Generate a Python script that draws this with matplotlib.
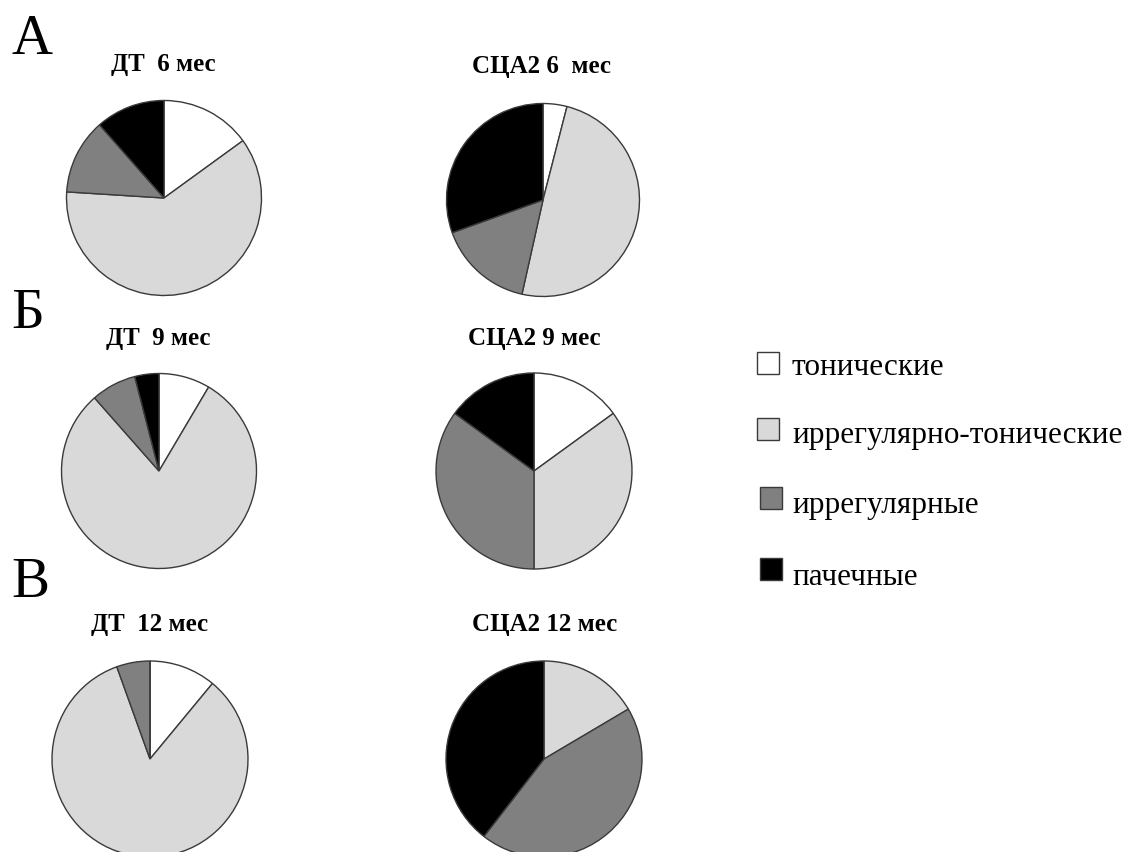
import matplotlib
matplotlib.use("Agg")
import matplotlib.pyplot as plt
from matplotlib.patches import Rectangle

# Категории активности и их цвета
categories = ["тонические", "иррегулярно-тонические", "иррегулярные", "пачечные"]
colors = ["#ffffff", "#d9d9d9", "#808080", "#000000"]

# Доли (%) по группам и срокам
titles = ["ДТ  6 мес", "СЦА2 6  мес", "ДТ  9 мес", "СЦА2 9 мес", "ДТ  12 мес", "СЦА2 12 мес"]
dt_6 = [15.0, 61.0, 12.5, 11.5]
sca2_6 = [4.0, 49.5, 16.0, 30.5]
dt_9 = [8.5, 80.0, 7.5, 4.0]
sca2_9 = [15.0, 35.0, 35.0, 15.0]
dt_12 = [11.0, 83.5, 5.5, 0.0]
sca2_12 = [0.0, 16.5, 44.0, 39.5]
panel_letters = ["А", "Б", "В"]

W, H = 1128, 852
fig = plt.figure(figsize=(W / 100, H / 100), dpi=100)
ax = fig.add_axes([0, 0, 1, 1])

serif = ["Liberation Serif", "DejaVu Serif"]

# layout (pixel coordinates, y measured from top)
pie_layout = [
    (164, 198, 97.5), (543, 200, 96.5),
    (159, 471, 97.5), (534, 471, 98.0),
    (150, 759, 98.0), (544, 759, 98.0),
]
title_pos = [(163.5, 71), (541.5, 73), (158, 345), (534.5, 345), (149.5, 631), (545, 631)]
letter_pos = [(11, 54), (11, 328), (11, 597)]

data = [dt_6, sca2_6, dt_9, sca2_9, dt_12, sca2_12]
for vals, (cx, cy, r) in zip(data, pie_layout):
    ax.pie(vals, colors=colors, startangle=90, counterclock=False,
           center=(cx, H - cy), radius=r,
           wedgeprops=dict(edgecolor="#3a3a3a", linewidth=1.0))

for t, (x, y) in zip(titles, title_pos):
    ax.text(x, H - y, t, ha="center", va="baseline", fontsize=18,
            fontweight="bold", family=serif)

for L, (x, y) in zip(panel_letters, letter_pos):
    ax.text(x, H - y, L, ha="left", va="baseline", fontsize=41, family=serif)

# legend
sq = 22
sq_x = [757, 757, 760, 760]
sq_yc = [362.5, 429, 497.5, 569]
txt_base = [375, 443, 513, 585]
for lab, c, x, yc, yb in zip(categories, colors, sq_x, sq_yc, txt_base):
    ax.add_patch(Rectangle((x, H - yc - sq / 2), sq, sq, facecolor=c,
                           edgecolor="#3a3a3a", linewidth=1.0))
    ax.text(792, H - yb, lab, ha="left", va="baseline",
            fontsize=22.5, family=serif)

ax.set_xlim(0, W)
ax.set_ylim(0, H)
ax.set_aspect("auto")
ax.axis("off")
fig.savefig("out.png", dpi=100, facecolor="white")
